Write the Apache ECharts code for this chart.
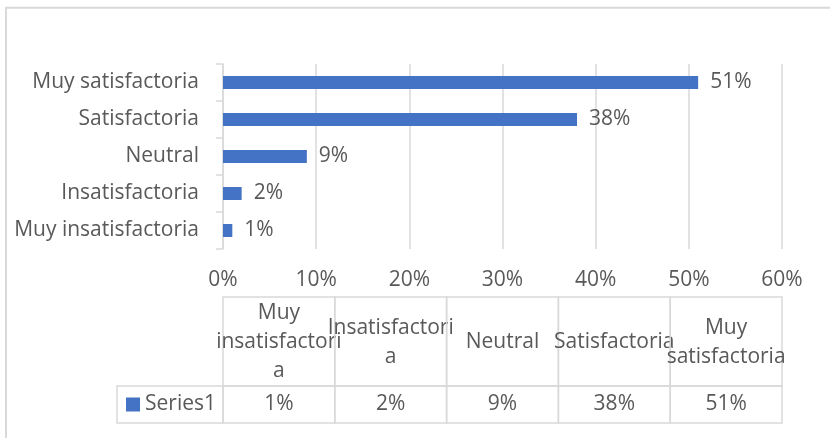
<!DOCTYPE html>
<html>
<head>
<meta charset="utf-8">
<script src="https://cdn.jsdelivr.net/npm/echarts@6/dist/echarts.min.js"></script>
<style>
  html, body { margin: 0; padding: 0; background: #ffffff; }
  #chart { width: 830px; height: 438px; }
</style>
</head>
<body>
<div id="chart"></div>
<script>
// Survey answers, bottom-to-top on the bar axis, left-to-right in the table
const categories = ['Muy insatisfactoria', 'Insatisfactoria', 'Neutral', 'Satisfactoria', 'Muy satisfactoria'];
// Header texts of the data table, wrapped the way the table shows them
const tableHeaders = ['Muy\ninsatisfactori\na', 'Insatisfactori\na', 'Neutral', 'Satisfactoria', 'Muy\nsatisfactoria'];
const seriesName = 'Series1';
const values = [1, 2, 9, 38, 51];
// Percent axis
const axisMin = 0;
const axisMax = 60;
const axisStep = 10;

const FONT = 'Open Sans';
const FONT_SIZE = 21;
const TEXT = '#595959';
const LINE = '#d9d9d9';
const BAR = '#4472c4';
const HEADER_H = 89;     // height of the header row of the table
const SERIES_CELL_W = 106;

const chart = echarts.init(document.getElementById('chart'), null, { renderer: 'canvas' });

function renderTableColumn(params, api) {
  const i = api.value(0);
  const v = api.value(1);
  const cx = api.coord([i, 0])[0];
  const w = api.size([1, 0])[0];
  const cs = params.coordSys;
  const top = cs.y;
  const h = cs.height;
  const left = cx - w / 2;
  const cellStyle = { fill: 'none', stroke: LINE, lineWidth: 1.5 };
  const textStyle = { fontFamily: FONT, fontSize: FONT_SIZE, fill: TEXT, align: 'center', verticalAlign: 'middle' };
  const children = [
    { type: 'rect', shape: { x: left, y: top, width: w, height: HEADER_H }, style: cellStyle },
    { type: 'rect', shape: { x: left, y: top + HEADER_H, width: w, height: h - HEADER_H }, style: cellStyle },
    { type: 'text', x: cx, y: top + HEADER_H / 2 + 1,
      style: Object.assign({ text: tableHeaders[i], lineHeight: 29 }, textStyle) },
    { type: 'text', x: cx, y: top + HEADER_H + (h - HEADER_H) / 2,
      style: Object.assign({ text: v + '%' }, textStyle) }
  ];
  if (i === 0) {
    const rowTop = top + HEADER_H;
    const rowH = h - HEADER_H;
    children.push(
      { type: 'rect', shape: { x: left - SERIES_CELL_W, y: rowTop, width: SERIES_CELL_W, height: rowH }, style: cellStyle },
      { type: 'rect', shape: { x: left - SERIES_CELL_W + 9, y: rowTop + rowH / 2 - 7, width: 14, height: 14 }, style: { fill: BAR } },
      { type: 'text', x: left - SERIES_CELL_W + 28, y: rowTop + rowH / 2,
        style: { text: seriesName, fontFamily: FONT, fontSize: FONT_SIZE, fill: TEXT, align: 'left', verticalAlign: 'middle' } }
    );
  }
  return { type: 'group', children: children };
}

chart.setOption({
  backgroundColor: '#ffffff',
  animation: false,
  textStyle: { fontFamily: FONT },
  graphic: [
    { type: 'rect', silent: true, shape: { x: 6, y: 7.7, width: 1000, height: 1000 },
      style: { fill: 'none', stroke: LINE, lineWidth: 2 } }
  ],
  grid: [
    { left: 223, right: 48, top: 64, bottom: 189, containLabel: false },
    { left: 223, right: 48, top: 297, bottom: 15, containLabel: false }
  ],
  xAxis: [
    {
      gridIndex: 0, type: 'value', min: axisMin, max: axisMax, interval: axisStep,
      axisLine: { show: false }, axisTick: { show: false },
      splitLine: { show: true, lineStyle: { color: LINE, width: 1.5 } },
      axisLabel: { formatter: '{value}%', color: TEXT, fontSize: FONT_SIZE, fontFamily: FONT, margin: 21 }
    },
    {
      gridIndex: 1, type: 'category', data: categories, show: false
    }
  ],
  yAxis: [
    {
      gridIndex: 0, type: 'category', data: categories,
      axisLine: { show: true, lineStyle: { color: LINE, width: 1.5 } },
      axisTick: { show: true, length: 7, lineStyle: { color: LINE, width: 1.5 } },
      axisLabel: { color: TEXT, fontSize: FONT_SIZE, fontFamily: FONT, margin: 24 }
    },
    {
      gridIndex: 1, type: 'value', min: 0, max: 1, show: false
    }
  ],
  series: [
    {
      name: seriesName, type: 'bar', xAxisIndex: 0, yAxisIndex: 0,
      data: values, barWidth: 13,
      itemStyle: { color: BAR },
      label: { show: true, position: 'right', distance: 12, formatter: '{c}%',
               color: TEXT, fontSize: FONT_SIZE, fontFamily: FONT }
    },
    {
      name: 'table', type: 'custom', xAxisIndex: 1, yAxisIndex: 1,
      renderItem: renderTableColumn,
      data: values.map(function (v, i) { return [i, v]; }),
      silent: true
    }
  ]
});
</script>
</body>
</html>
